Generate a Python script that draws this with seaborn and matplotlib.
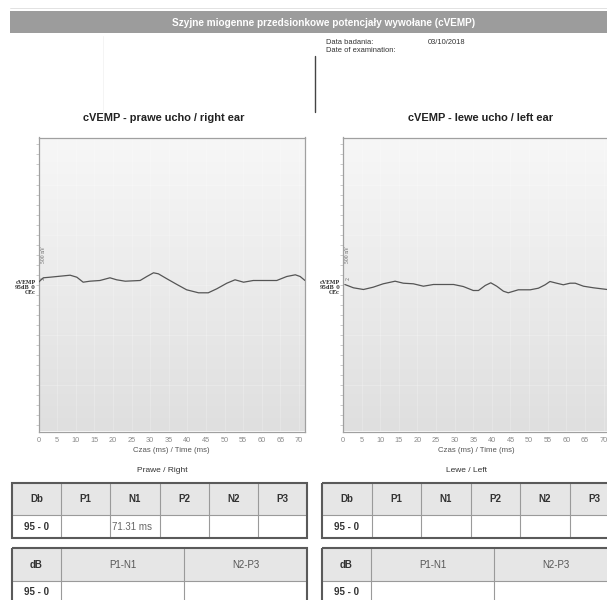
import numpy as np
import pandas as pd
import matplotlib
matplotlib.use("Agg")
import matplotlib.pyplot as plt
from matplotlib.patches import Rectangle
import seaborn as sns

# ---------------- data ----------------
time_right_ear = [0.0, 1.3, 3.1, 5.8, 8.5, 10.3, 12.0, 13.8, 16.5, 19.2, 21.0, 23.3, 27.3, 29.1,
                  30.9, 32.2, 34.5, 37.2, 39.8, 43.0, 45.6, 47.9, 50.6, 52.8, 55.1, 57.7, 61.3,
                  64.0, 66.7, 69.0, 70.3, 71.6]
amp_right_ear = [0.23, 0.67, 0.73, 0.83, 0.93, 0.73, 0.23, 0.33, 0.40, 0.67, 0.47, 0.33, 0.40, 0.80,
                 1.17, 1.07, 0.57, 0.00, -0.53, -0.83, -0.83, -0.43, 0.13, 0.47, 0.23, 0.40, 0.40,
                 0.40, 0.80, 0.97, 0.80, 0.40]
time_left_ear = [0.5, 2.8, 5.5, 8.1, 10.8, 14.0, 16.2, 18.9, 21.6, 24.3, 27.0, 29.7, 32.3, 35.0,
                 36.4, 38.2, 39.7, 41.3, 43.1, 44.4, 47.1, 50.3, 52.5, 54.3, 55.6, 57.4, 59.2,
                 61.0, 62.4, 64.6, 67.3, 71.0]
amp_left_ear = [0.00, -0.33, -0.50, -0.27, 0.07, 0.33, 0.13, 0.07, -0.17, 0.00, 0.00, 0.00, -0.20,
                -0.60, -0.60, -0.10, 0.17, -0.17, -0.67, -0.83, -0.53, -0.53, -0.37, -0.03, 0.30,
                0.13, -0.03, 0.13, 0.13, -0.17, -0.33, -0.50]
x_ticks = list(range(0, 75, 5))

main_title = "Szyjne miogenne przedsionkowe potencjały wywołane (cVEMP)"
title_right = "cVEMP - prawe ucho / right ear"
title_left = "cVEMP - lewe ucho / left ear"
x_label = "Czas (ms) / Time (ms)"
exam_date = "03/10/2018"
side_labels = ["Prawe / Right", "Lewe / Left"]

lat_headers = ["Db", "P1", "N1", "P2", "N2", "P3"]
lat_right = ["95 - 0", "", "71.31 ms", "", "", ""]
lat_left = ["95 - 0", "", "", "", "", ""]
amp_headers = ["dB", "P1-N1", "N2-P3"]
amp_right_vals = ["95 - 0", "", ""]
amp_left_vals = ["95 - 0", "", ""]

# ---------------- figure ----------------
sns.set_theme(style="white")
plt.rcParams["font.family"] = ["Liberation Sans", "DejaVu Sans"]

W, H = 607, 600
fig = plt.figure(figsize=(W / 100, H / 100), dpi=100)
fig.patch.set_facecolor("white")

def px_axes(x0, y0, x1, y1):
    return fig.add_axes([x0 / W, 1 - y1 / H, (x1 - x0) / W, (y1 - y0) / H])

YLIM = (-14.7, 14.7)
XLIM = (0, 71.6)
grad = np.linspace(0, 1, 256).reshape(-1, 1)
cmap = matplotlib.colors.LinearSegmentedColormap.from_list("bg", ["#f7f7f7", "#dfdfdf"])

def wave_panel(ax, t, a):
    ax.imshow(grad, extent=[XLIM[0], XLIM[1], YLIM[0], YLIM[1]], origin="upper",
              cmap=cmap, aspect="auto", zorder=0)
    df = pd.DataFrame({"t": t, "a": a})
    sns.lineplot(data=df, x="t", y="a", ax=ax, color="#555555", linewidth=0.9, zorder=3)
    ax.set_xlim(*XLIM)
    ax.set_ylim(*YLIM)
    ax.set_xticks(x_ticks)
    ax.set_xticklabels([str(v) for v in x_ticks])
    ax.set_yticks(np.arange(-10, 15, 5))
    ax.set_yticks(np.arange(-14, 15, 1), minor=True)
    ax.set_yticklabels([])
    ax.tick_params(axis="x", labelsize=5.3, colors="#8a8a8a", length=2, width=0.5, pad=2)
    ax.tick_params(axis="y", which="both", length=2, width=0.5, colors="#b8b8b8", pad=0,
                   left=True)
    ax.grid(True, which="major", color="#ffffff", alpha=0.3, linewidth=0.5)
    for s in ax.spines.values():
        s.set_color("#a0a0a0")
        s.set_linewidth(0.9)
    ax.set_xlabel(x_label, fontsize=5.6, color="#555555", labelpad=2)
    ax.set_ylabel("")
    ax.text(0.6, 3.0, "500 nV", rotation=90, fontsize=3.3, color="#666666",
            ha="left", va="center", family="DejaVu Serif")
    ax.text(0.6, 0.6, "2", rotation=90, fontsize=3.3, color="#666666",
            ha="left", va="center", family="DejaVu Serif")
    ax.text(-0.8, -0.3, "cVEMP\n95dB_0\nCEc", fontsize=3.6, fontweight="bold",
            color="#333333", ha="right", va="center", family="DejaVu Serif",
            linespacing=1.0, clip_on=False)

ax_r = px_axes(38.5, 137.5, 305, 431.5)
wave_panel(ax_r, time_right_ear, amp_right_ear)
ax_l = px_axes(343, 137.5, 609.5, 431.5)
wave_panel(ax_l, time_left_ear, amp_left_ear)

# ---------------- overlay (header, info, tables) ----------------
ov = fig.add_axes([0, 0, 1, 1], zorder=5)
ov.set_xlim(0, W)
ov.set_ylim(H, 0)
ov.axis("off")
ov.patch.set_alpha(0)

ov.plot([10, W], [8, 8], color="#dddddd", lw=0.6)
ov.add_patch(Rectangle((10, 11), W - 10, 22, facecolor="#9c9c9c", edgecolor="none"))
ov.text(324, 22.5, main_title, color="white", fontsize=7.2, fontweight="bold",
        ha="center", va="center")
ov.plot([315, 315], [56, 112], color="#444444", lw=1.0)
ov.plot([103, 103], [36, 112], color="#f2f2f2", lw=0.6)
ov.text(326, 42, "Data badania:", fontsize=5.4, color="#333333", ha="left", va="center")
ov.text(326, 50, "Date of examination:", fontsize=5.4, color="#333333", ha="left", va="center")
ov.text(428, 42, exam_date, fontsize=5.4, color="#333333", ha="left", va="center")

ov.text(164, 118, title_right, fontsize=7.9, fontweight="bold", color="#222222",
        ha="center", va="center")
ov.text(481, 118, title_left, fontsize=7.9, fontweight="bold", color="#222222",
        ha="center", va="center")

ov.text(162, 470, side_labels[0], fontsize=6.0, color="#333333", ha="center", va="center")
ov.text(467, 470, side_labels[1], fontsize=6.0, color="#333333", ha="center", va="center")

def draw_table(cols, y0, yh, y1, headers, values, header_bold, ytext=None):
    x0, x1 = cols[0], cols[-1]
    if ytext is None:
        ytext = (yh + y1) / 2
    ov.add_patch(Rectangle((x0, y0), x1 - x0, yh - y0, facecolor="#e6e6e6",
                           edgecolor="none", zorder=1))
    for xv in cols[1:-1]:
        ov.plot([xv, xv], [y0, y1], color="#9a9a9a", lw=0.8, zorder=2)
    ov.plot([x0, x1], [yh, yh], color="#9a9a9a", lw=0.8, zorder=2)
    ov.add_patch(Rectangle((x0, y0), x1 - x0, y1 - y0, facecolor="none",
                           edgecolor="#5a5a5a", lw=1.5, zorder=3))
    for i, h in enumerate(headers):
        cx = (cols[i] + cols[i + 1]) / 2
        ov.text(cx, (y0 + yh) / 2, h, fontsize=7.0,
                fontweight="bold" if header_bold[i] else "normal",
                color="#333333" if header_bold[i] else "#555555",
                ha="center", va="center", zorder=4)
    for i, v in enumerate(values):
        if not v:
            continue
        if i == 0:
            ov.text((cols[0] + cols[1]) / 2, ytext, v, fontsize=7.0,
                    fontweight="bold", color="#333333", ha="center", va="center", zorder=4)
        else:
            ov.text(cols[i] + 2, ytext, v, fontsize=7.0, color="#666666",
                    ha="left", va="center", zorder=4)

c1_r = [12 + 49.2 * i for i in range(7)]
c1_l = [322 + 49.5 * i for i in range(7)]
draw_table(c1_r, 483, 515, 538, lat_headers, lat_right, [True] * 6)
draw_table(c1_l, 483, 515, 538, lat_headers, lat_left, [True] * 6)
draw_table([12, 61, 184, 307], 548, 581, 612, amp_headers, amp_right_vals,
           [True, False, False], ytext=592)
draw_table([322, 371, 494, 617], 548, 581, 612, amp_headers, amp_left_vals,
           [True, False, False], ytext=592)

fig.savefig("out.png", dpi=100, facecolor="white")
